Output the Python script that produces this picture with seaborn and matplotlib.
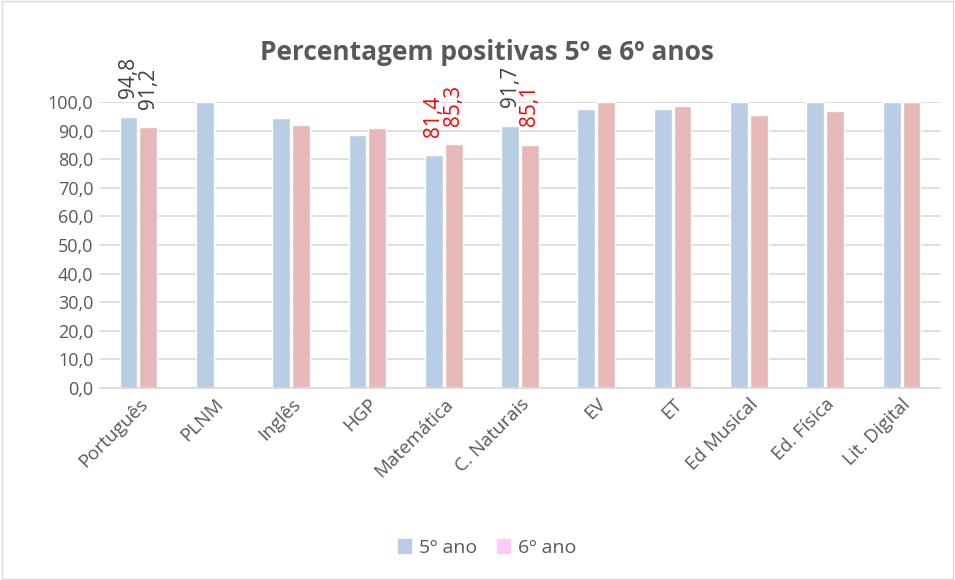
import pandas as pd
import numpy as np
import seaborn as sns
import matplotlib.pyplot as plt
from matplotlib.patches import Patch, Rectangle

# data
disciplinas = ['Português', 'PLNM', 'Inglês', 'HGP', 'Matemática', 'C. Naturais',
               'EV', 'ET', 'Ed Musical', 'Ed. Física', 'Lit. Digital']
ano5 = [94.8, 100.0, 94.6, 88.5, 81.4, 91.7, 97.6, 97.6, 100.0, 100.0, 100.0]
ano6 = [91.2, np.nan, 92.0, 90.9, 85.3, 85.1, 100.0, 98.6, 95.5, 96.9, 100.0]
series = ['5º ano', '6º ano']

# which bars carry a value label and in which colour
rotulos = {('Português', '5º ano'): '#404040', ('Português', '6º ano'): '#404040',
           ('Matemática', '5º ano'): '#FF0000', ('Matemática', '6º ano'): '#FF0000',
           ('C. Naturais', '5º ano'): '#404040', ('C. Naturais', '6º ano'): '#FF0000'}

df = pd.DataFrame({'Disciplina': disciplinas * 2,
                   'Ano': [series[0]] * len(disciplinas) + [series[1]] * len(disciplinas),
                   'Valor': ano5 + ano6})

sns.set_style('white')
plt.rcParams['font.family'] = ['Open Sans', 'DejaVu Sans']

fig = plt.figure(figsize=(9.55, 5.8), dpi=100)
ax = fig.add_axes([0.105, 0.331, 0.879, 0.493])

cores = {'5º ano': '#B9CDE5', '6º ano': '#E6B9B8'}
sns.barplot(data=df, x='Disciplina', y='Valor', hue='Ano', palette=cores,
            width=0.52, gap=0.1, saturation=1, ax=ax, legend=False, errorbar=None)

ax.set_ylim(0, 100)
ax.set_yticks(np.arange(0, 101, 10))
ax.set_yticklabels([f'{v:.1f}'.replace('.', ',') for v in np.arange(0, 101, 10)],
                   fontsize=13, color='#595959')
ax.set_xticks(range(len(disciplinas)))
ax.set_xticklabels(disciplinas, rotation=45, ha='right', rotation_mode='anchor',
                   fontsize=13.5, color='#595959')
ax.tick_params(axis='both', length=0, pad=5)
ax.set_xlabel('')
ax.set_ylabel('')
ax.yaxis.grid(True, color='#D9D9D9', linewidth=1.2)
ax.set_axisbelow(True)
for s in ['top', 'right', 'left']:
    ax.spines[s].set_visible(False)
ax.spines['bottom'].set_color('#D9D9D9')
ax.spines['bottom'].set_linewidth(1.2)

# value labels, rotated like the original (bars mapped to their category by position)
for cont, nome in zip(ax.containers, series):
    for bar in cont:
        h = bar.get_height()
        if np.isnan(h):
            continue
        disc = disciplinas[int(round(bar.get_x() + bar.get_width() / 2))]
        cor = rotulos.get((disc, nome))
        if cor is None:
            continue
        ax.text(bar.get_x() + bar.get_width() / 2, h + 6.5,
                f'{h:.1f}'.replace('.', ','), rotation=90, ha='center', va='bottom',
                fontsize=15, color=cor, clip_on=False)

fig.text(0.51, 0.91, 'Percentagem positivas 5º e 6º anos', ha='center', va='center',
         fontsize=19, fontweight='bold', color='#595959')

handles = [Patch(color='#B9CDE5', label='5º ano'), Patch(color='#FFCCF5', label='6º ano')]
fig.legend(handles=handles, loc='center', bbox_to_anchor=(0.51, 0.055), ncol=2,
           frameon=False, fontsize=14, handlelength=0.7, handleheight=0.7,
           columnspacing=1.0, handletextpad=0.4, labelcolor='#595959')

fig.patches.append(Rectangle((0.002, 0.002), 0.996, 0.996, transform=fig.transFigure,
                             fill=False, edgecolor='#D9D9D9', linewidth=1))

plt.savefig('out.png', dpi=100)
plt.close()
